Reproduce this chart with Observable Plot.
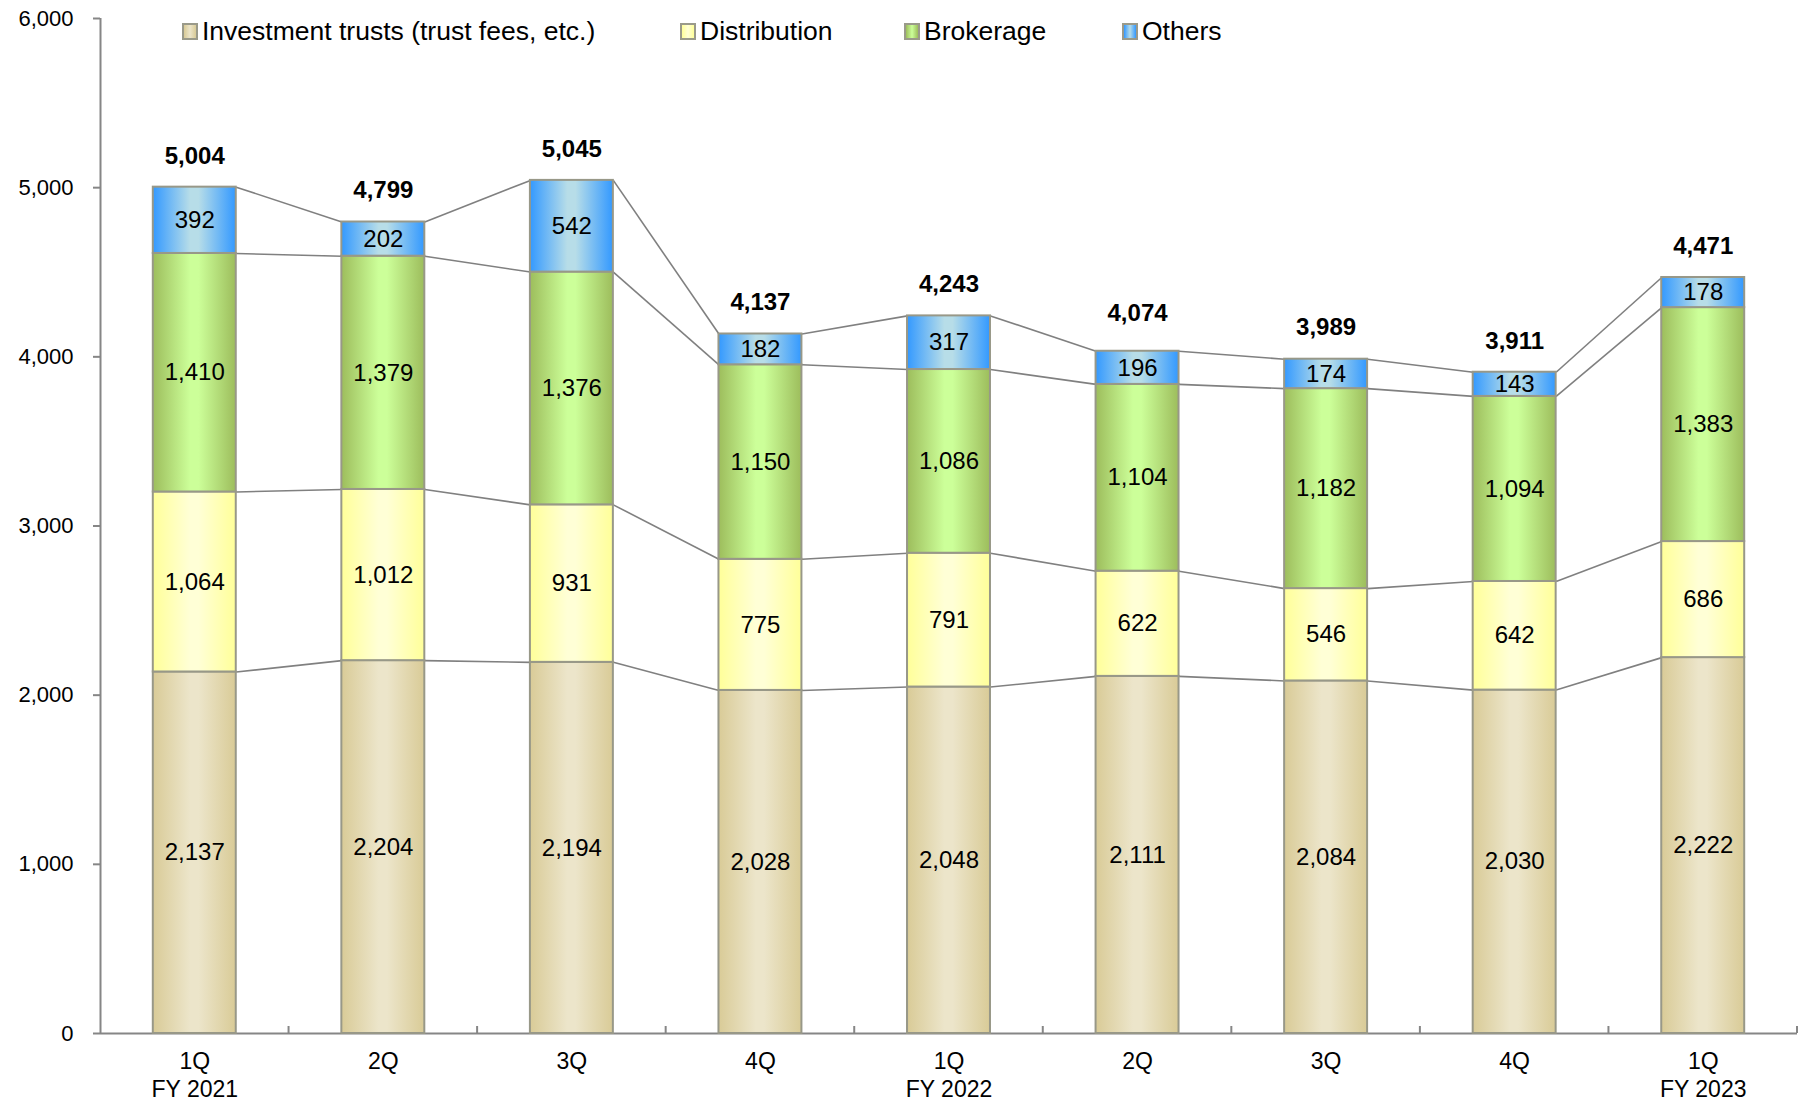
<!DOCTYPE html>
<html>
<head>
<meta charset="utf-8">
<script src="https://cdn.jsdelivr.net/npm/d3@7"></script>
<script src="https://cdn.jsdelivr.net/npm/@observablehq/plot@0.6"></script>
<style>
  html, body { margin: 0; padding: 0; background: #fff; }
  #wrap { position: relative; width: 1806px; height: 1102px; font-family: "Liberation Sans", Arial, sans-serif; }
  .leg { position: absolute; top: 16px; display: flex; align-items: center; font-size: 26.5px; color: #000; white-space: nowrap; }
  .sw { width: 12px; height: 13px; border: 2px solid #9a9a8a; margin-right: 4px; }
</style>
</head>
<body>
<div id="wrap"></div>
<script>
// ---- data ----
const quarters = ["1Q", "2Q", "3Q", "4Q", "1Q", "2Q", "3Q", "4Q", "1Q"];
const fiscalYears = ["FY 2021", "", "", "", "FY 2022", "", "", "", "FY 2023"];
const seriesNames = ["Investment trusts (trust fees, etc.)", "Distribution", "Brokerage", "Others"];
const investment = [2137, 2204, 2194, 2028, 2048, 2111, 2084, 2030, 2222];
const distribution = [1064, 1012, 931, 775, 791, 622, 546, 642, 686];
const brokerage = [1410, 1379, 1376, 1150, 1086, 1104, 1182, 1094, 1383];
const others = [392, 202, 542, 182, 317, 196, 174, 143, 178];
const totals = [5004, 4799, 5045, 4137, 4243, 4074, 3989, 3911, 4471];
const yTicks = [0, 1000, 2000, 3000, 4000, 5000, 6000];

// ---- styling ----
const gradients = [
  ["#d9cb97", "#ece5ca"],
  ["#ffff99", "#ffffd6"],
  ["#9dbd5c", "#ccff99"],
  ["#3399ff", "#b7dde8"]
];
const legendLeft = [182, 680, 904, 1122];
const halfBar = 0.22;
const fmt = d3.format(",");

const seriesValues = [investment, distribution, brokerage, others];
const idx = d3.range(quarters.length);

// build long table with cumulative positions
const segs = [];
idx.forEach(i => {
  let acc = 0;
  seriesValues.forEach((vals, k) => {
    segs.push({i, k, y1: acc, y2: acc + vals[i], v: vals[i]});
    acc += vals[i];
  });
});
const links = [];
for (let i = 0; i < idx.length - 1; i++) {
  for (let k = 0; k < 4; k++) {
    const a = segs.find(s => s.i === i && s.k === k);
    const b = segs.find(s => s.i === i + 1 && s.k === k);
    links.push({x1: i + halfBar, x2: i + 1 - halfBar, y1: a.y2, y2: b.y2});
  }
}

const defsMark = () => {
  const defs = d3.create("svg:defs");
  gradients.forEach(([edge, mid], k) => {
    const g = defs.append("linearGradient").attr("id", "grad" + k)
      .attr("x1", 0).attr("x2", 1).attr("y1", 0).attr("y2", 0);
    g.append("stop").attr("offset", "0%").attr("stop-color", edge);
    g.append("stop").attr("offset", "45%").attr("stop-color", mid);
    g.append("stop").attr("offset", "55%").attr("stop-color", mid);
    g.append("stop").attr("offset", "100%").attr("stop-color", edge);
  });
  return defs.node();
};

const boundaryTicks = (index, scales) => {
  const g = d3.create("svg:g").attr("stroke", "#868686").attr("stroke-width", 2);
  const y0 = scales.y(0);
  d3.range(quarters.length).map(i => i + 0.5).forEach(b => {
    g.append("line").attr("x1", scales.x(b)).attr("x2", scales.x(b))
      .attr("y1", y0).attr("y2", y0 - 7);
  });
  return g.node();
};

const rectMarks = gradients.map((_, k) => Plot.rect(segs.filter(s => s.k === k), {
  x1: d => d.i - halfBar,
  x2: d => d.i + halfBar,
  y1: "y1",
  y2: "y2",
  fill: `url(#grad${k})`,
  stroke: "#989888",
  strokeWidth: 2
}));

const chart = Plot.plot({
  width: 1806,
  height: 1102,
  marginLeft: 100,
  marginRight: 9,
  marginTop: 18,
  marginBottom: 69,
  style: {fontFamily: "'Liberation Sans', Arial, sans-serif", fontSize: "22px", background: "#fff", color: "#000"},
  x: {type: "linear", domain: [-0.5, quarters.length - 0.5], axis: null},
  y: {domain: [0, 6000], axis: null},
  marks: [
    defsMark,
    Plot.axisY({ticks: yTicks, tickFormat: fmt, tickSize: 7, tickPadding: 20, fontSize: 22, stroke: "#868686", strokeWidth: 2}),
    Plot.ruleX([-0.5], {y1: 0, y2: 6000, stroke: "#868686", strokeWidth: 2}),
    Plot.ruleY([0], {stroke: "#868686", strokeWidth: 2}),
    boundaryTicks,
    Plot.link(links, {x1: "x1", x2: "x2", y1: "y1", y2: "y2", stroke: "#808080", strokeWidth: 1.6}),
    ...rectMarks,
    Plot.text(segs, {x: "i", y: d => (d.y1 + d.y2) / 2, text: d => fmt(d.v), fontSize: 24, fill: "#000"}),
    Plot.text(idx, {x: d => d, y: d => totals[d], text: d => fmt(totals[d]), dy: -31, fontSize: 24, fontWeight: "bold", fill: "#000"}),
    Plot.text(idx, {x: d => d, y: 0, text: d => fiscalYears[d] ? quarters[d] + "\n" + fiscalYears[d] : quarters[d],
      lineAnchor: "top", dy: 16, fontSize: 23, lineHeight: 1.2, fill: "#000"})
  ]
});

const wrap = document.getElementById("wrap");
wrap.appendChild(chart);

seriesNames.forEach((name, k) => {
  const item = document.createElement("div");
  item.className = "leg";
  item.style.left = legendLeft[k] + "px";
  const sw = document.createElement("div");
  sw.className = "sw";
  sw.style.background = `linear-gradient(to right, ${gradients[k][0]}, ${gradients[k][1]} 50%, ${gradients[k][0]})`;
  const t = document.createElement("span");
  t.textContent = name;
  item.appendChild(sw);
  item.appendChild(t);
  wrap.appendChild(item);
});
</script>
</body>
</html>
